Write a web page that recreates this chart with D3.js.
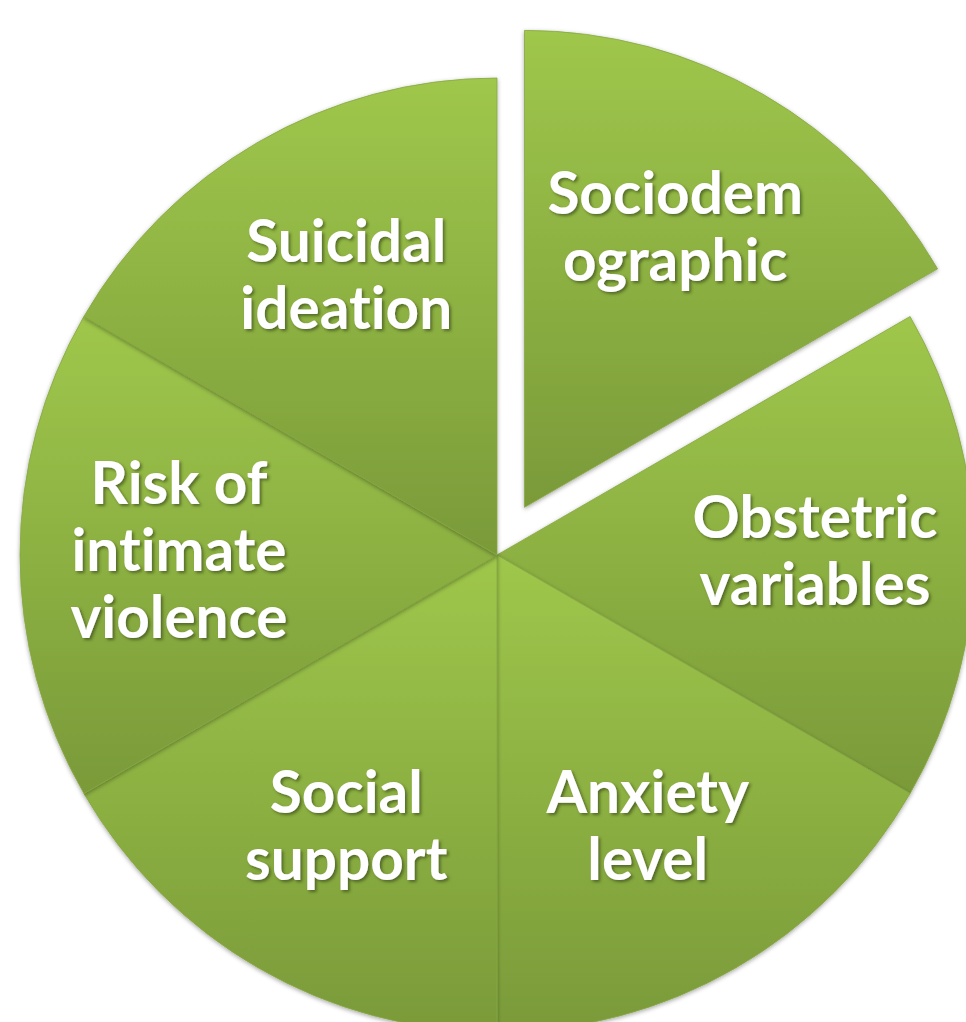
<!DOCTYPE html>
<html>
<head>
<meta charset="utf-8">
<script src="https://cdn.jsdelivr.net/npm/d3@7"></script>
<style>
  html, body { margin: 0; padding: 0; background: #fff; }
  svg { display: block; }
</style>
</head>
<body>
<script>
// pie data: six equal parts, first one pulled out
let labels = [
  ['Sociodem', 'ographic'],
  ['Obstetric', 'variables'],
  ['Anxiety', 'level'],
  ['Social', 'support'],
  ['Risk of', 'intimate', 'violence'],
  ['Suicidal', 'ideation']
];
let values = [1, 1, 1, 1, 1, 1];
let exploded = [true, false, false, false, false, false];

let width = 966,
    height = 1022,
    cx = 497,
    cy = 555,
    radius = 477,
    explode = 55;

let svg = d3.select('body').append('svg')
    .attr('width', width)
    .attr('height', height);

let defs = svg.append('defs');

let grad = defs.append('linearGradient')
    .attr('id', 'sliceGrad')
    .attr('x1', 0).attr('y1', 0)
    .attr('x2', 0).attr('y2', 1);
grad.append('stop').attr('offset', '0%').attr('stop-color', '#9fc74b');
grad.append('stop').attr('offset', '100%').attr('stop-color', '#7a9a39');

let sliceShadow = defs.append('filter').attr('id', 'sliceShadow')
    .attr('x', '-10%').attr('y', '-10%').attr('width', '120%').attr('height', '120%');
sliceShadow.append('feDropShadow')
    .attr('dx', 0).attr('dy', 1.5).attr('stdDeviation', 2)
    .attr('flood-color', '#000').attr('flood-opacity', 0.35);

let textShadow = defs.append('filter').attr('id', 'textShadow')
    .attr('x', '-10%').attr('y', '-20%').attr('width', '120%').attr('height', '140%');
textShadow.append('feDropShadow')
    .attr('dx', 2).attr('dy', 2).attr('stdDeviation', 1.5)
    .attr('flood-color', '#2a3a10').attr('flood-opacity', 0.6);

let pie = d3.pie().sort(null).value(d => d);
let arcs = pie(values);

let arc = d3.arc().innerRadius(0).outerRadius(radius);

let g = svg.append('g')
    .attr('transform', `translate(${cx},${cy})`);

// offset for a slice (pulled ones move along the bisector)
function shift(d, i) {
  if (!exploded[i]) return [0, 0];
  let a = (d.startAngle + d.endAngle) / 2;
  return [Math.sin(a) * explode, -Math.cos(a) * explode];
}

let slices = g.selectAll('.slice').data(arcs).enter().append('g')
    .attr('class', 'slice')
    .attr('transform', (d, i) => {
      let s = shift(d, i);
      return `translate(${s[0]},${s[1]})`;
    });

slices.append('path')
    .attr('d', arc)
    .attr('fill', 'url(#sliceGrad)')
    .attr('stroke', '#86a742')
    .attr('stroke-width', 0.8)
    .attr('filter', 'url(#sliceShadow)');

let lineH = 67;
let labelR = 318;

slices.append('text')
    .attr('font-family', 'Lato, "Open Sans", sans-serif')
    .attr('font-weight', 'bold')
    .attr('font-size', 58.5)
    .style('font-variant-ligatures', 'none')
    .attr('fill', '#fff')
    .attr('text-anchor', 'middle')
    .attr('filter', 'url(#textShadow)')
    .each(function(d, i) {
      let a = (d.startAngle + d.endAngle) / 2;
      // labels sit a bit closer to the vertical on the diagonal slices
      let x = Math.sin(a) * labelR * (1 - 0.06 * Math.abs(Math.cos(a))),
          y = -Math.cos(a) * labelR;
      let lines = labels[i];
      let y0 = y - (lines.length - 1) * lineH / 2 + 16;
      d3.select(this).selectAll('tspan').data(lines).enter().append('tspan')
          .attr('x', x)
          .attr('y', (t, j) => y0 + j * lineH)
          .text(t => t);
    });
</script>
</body>
</html>
